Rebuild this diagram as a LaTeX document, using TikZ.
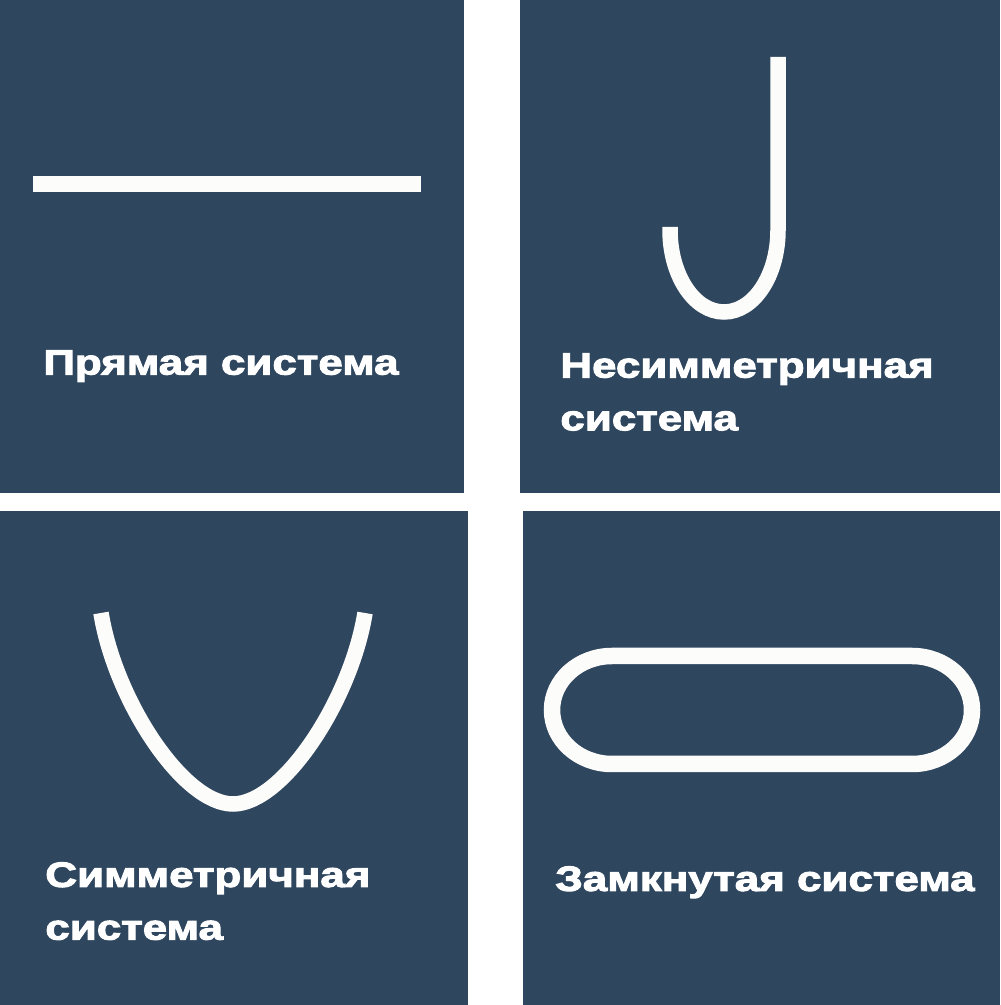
\documentclass[tikz,border=0pt]{standalone}
\usepackage{fontspec}
\newfontfamily\labelfont[FakeStretch=1.25,FakeBold=3]{Liberation Sans Bold}
\definecolor{PanelBlue}{RGB}{47, 70, 95}
\definecolor{WireWhite}{RGB}{252, 252, 250}
\usetikzlibrary{positioning}

\begin{document}
\begin{tikzpicture}[
        wire/.style={line width=0.31cm, WireWhite},
        caption/.style={anchor=north west, inner sep=0pt, text=white, align=left,
            font=\labelfont\fontsize{20}{30}\selectfont}]
        % Page
        \fill[white] (0,0) rectangle (20,20.1);
        \useasboundingbox (0,0) rectangle (20,20.1);

        % Panels
        \fill[PanelBlue] (0,10.24) rectangle (9.28,20.1);
        \fill[PanelBlue] (10.4,10.24) rectangle (20,20.1);
        \fill[PanelBlue] (0,0) rectangle (9.36,9.88);
        \fill[PanelBlue] (10.46,0) rectangle (20,9.88);

        % Straight system
        \draw[wire, line width=0.32cm] (0.66,16.42) -- (8.42,16.42);
        \node[caption] (straightlbl) at (0.86,13.1) {Прямая система};

        % Asymmetric system
        \draw[wire] (15.56,18.96) -- (15.56,15.5)
            arc[start angle=0, end angle=-180, x radius=1.08, y radius=1.64]
            -- (13.4,15.56);
        \node[caption] (asymlbl) at (11.2,13.04) {Несимметричная\\система};

        % Symmetric system
        \draw[wire] (2.02,7.84) .. controls (2.3,6.1) and (3.66,4.02) .. (4.66,4.02)
            .. controls (5.66,4.02) and (7.02,6.1) .. (7.3,7.84);
        \node[caption] (symlbl) at (0.9,2.86) {Симметричная\\система};

        % Closed system
        \draw[wire, line width=0.33cm] (12.24,6.98) -- (18.24,6.98)
            arc[start angle=90, end angle=-90, x radius=1.2, y radius=1.08]
            -- (12.24,4.82)
            arc[start angle=270, end angle=90, x radius=1.2, y radius=1.08]
            -- cycle;
        \node[caption] (closedlbl) at (11.1,2.78) {Замкнутая система};
    \end{tikzpicture}
\end{document}
